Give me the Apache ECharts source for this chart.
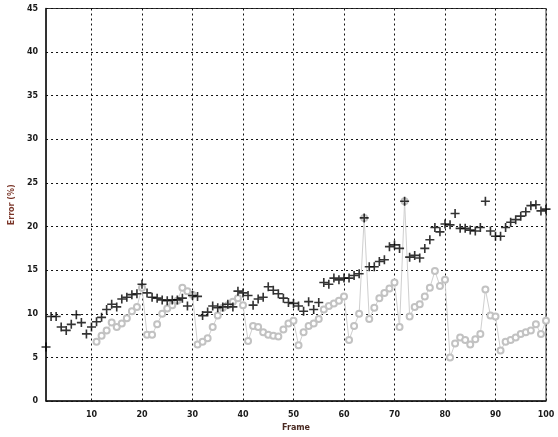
<!DOCTYPE html>
<html>
<head>
<meta charset="utf-8">
<script src="https://cdn.jsdelivr.net/npm/echarts@6/dist/echarts.min.js"></script>
<style>
  html, body { margin: 0; padding: 0; background: #fff; }
  #main { width: 558px; height: 437px; }
</style>
</head>
<body>
<div id="main"></div>
<script>
// frame numbers along the x axis
const frames = Array.from({ length: 100 }, (_, i) => i + 1)

// black "+" series
const errPlus = [
  6.2, 9.7, 9.7, 8.5, 8.1, 8.8, 9.9, 9.0, 7.7, 8.5,
  9.1, 9.6, 10.5, 11.1, 10.8, 11.7, 11.9, 12.2, 12.3, 13.4,
  12.4, 11.9, 11.8, 11.6, 11.5, 11.6, 11.6, 11.8, 10.9, 12.1,
  12.0, 9.8, 10.2, 10.9, 10.7, 10.8, 11.1, 10.8, 12.6, 12.4,
  12.1, 11.0, 11.7, 11.9, 13.1, 12.7, 12.3, 11.8, 11.3, 11.2,
  10.9, 10.3, 11.4, 10.5, 11.3, 13.6, 13.4, 14.1, 13.9, 14.1,
  14.1, 14.4, 14.6, 21.0, 15.4, 15.4, 16.0, 16.2, 17.7, 17.9,
  17.5, 22.9, 16.5, 16.7, 16.4, 17.5, 18.5, 19.9, 19.4, 20.3,
  20.2, 21.5, 19.8, 19.8, 19.6, 19.5, 19.9, 22.9, 19.5, 18.9,
  18.9, 19.9, 20.5, 20.8, 21.2, 21.7, 22.4, 22.5, 21.8, 22.0
]

// grey circle series (starts at frame 11)
const errCircle = [
  null, null, null, null, null, null, null, null, null, null,
  6.8, 7.5, 8.1, 9.0, 8.5, 8.9, 9.5, 10.3, 10.8, 13.0,
  7.6, 7.6, 8.8, 10.0, 10.6, 11.0, 11.5, 13.0, 12.6, 12.2,
  6.5, 6.8, 7.2, 8.5, 9.8, 10.7, 11.0, 11.4, 11.8, 11.0,
  6.9, 8.6, 8.5, 7.9, 7.6, 7.5, 7.4, 8.2, 8.9, 9.2,
  6.4, 7.9, 8.6, 8.9, 9.4, 10.5, 10.9, 11.2, 11.5, 12.0,
  7.0, 8.6, 10.0, 21.0, 9.4, 10.7, 11.8, 12.4, 12.9, 13.6,
  8.5, 22.9, 9.7, 10.8, 11.1, 12.0, 13.0, 14.9, 13.2, 13.9,
  5.0, 6.6, 7.3, 7.0, 6.5, 7.1, 7.7, 12.8, 9.8, 9.7,
  5.8, 6.8, 7.0, 7.3, 7.7, 7.9, 8.1, 8.8, 7.7, 9.2
]

const xTicks = [10, 20, 30, 40, 50, 60, 70, 80, 90, 100]

const labelFont = {
  color: '#1a1a1a',
  fontSize: 8,
  fontWeight: 'bold',
  fontFamily: 'DejaVu Sans'
}
const gridLine = {
  show: true,
  lineStyle: { color: '#111', width: 1, type: [2, 3] }
}

const chart = echarts.init(document.getElementById('main'))
chart.setOption({
  animation: false,
  backgroundColor: '#fff',
  grid: {
    left: 44,
    right: 12,
    top: 8.5,
    bottom: 32.5,
    show: true,
    borderColor: '#333',
    borderWidth: 1
  },
  xAxis: {
    type: 'value',
    min: 1,
    max: 100,
    name: 'Frame',
    nameLocation: 'middle',
    nameGap: 21,
    nameTextStyle: { color: '#4a2a22', fontSize: 8, fontWeight: 'bold', fontFamily: 'DejaVu Sans' },
    axisLine: { show: true, lineStyle: { color: '#111', width: 1.5 } },
    axisTick: { show: false, customValues: xTicks },
    axisLabel: Object.assign({ customValues: xTicks, margin: 10 }, labelFont),
    splitLine: gridLine
  },
  yAxis: {
    type: 'value',
    min: 0,
    max: 45,
    interval: 5,
    name: 'Error (%)',
    nameLocation: 'middle',
    nameGap: 29,
    nameTextStyle: { color: '#7a3528', fontSize: 8, fontWeight: 'bold', fontFamily: 'DejaVu Sans' },
    axisLine: { show: true, lineStyle: { color: '#111', width: 1.5 } },
    axisTick: { show: false },
    axisLabel: Object.assign({ margin: 8 }, labelFont),
    splitLine: gridLine
  },
  series: [
    {
      name: 'circle',
      type: 'line',
      data: frames.map((f, i) => [f, errCircle[i]]),
      connectNulls: false,
      symbol: 'emptyCircle',
      symbolSize: 6,
      itemStyle: { color: '#c2c2c2', borderWidth: 0.9 },
      lineStyle: { color: '#cfcfcf', width: 1 },
      z: 2
    },
    {
      name: 'plus',
      type: 'scatter',
      data: frames.map((f, i) => [f, errPlus[i]]),
      symbol: 'path://M4.1,0H5.9V4.1H10V5.9H5.9V10H4.1V5.9H0V4.1H4.1Z',
      symbolSize: 9,
      itemStyle: { color: '#000' },
      z: 3
    }
  ]
})
</script>
</body>
</html>
